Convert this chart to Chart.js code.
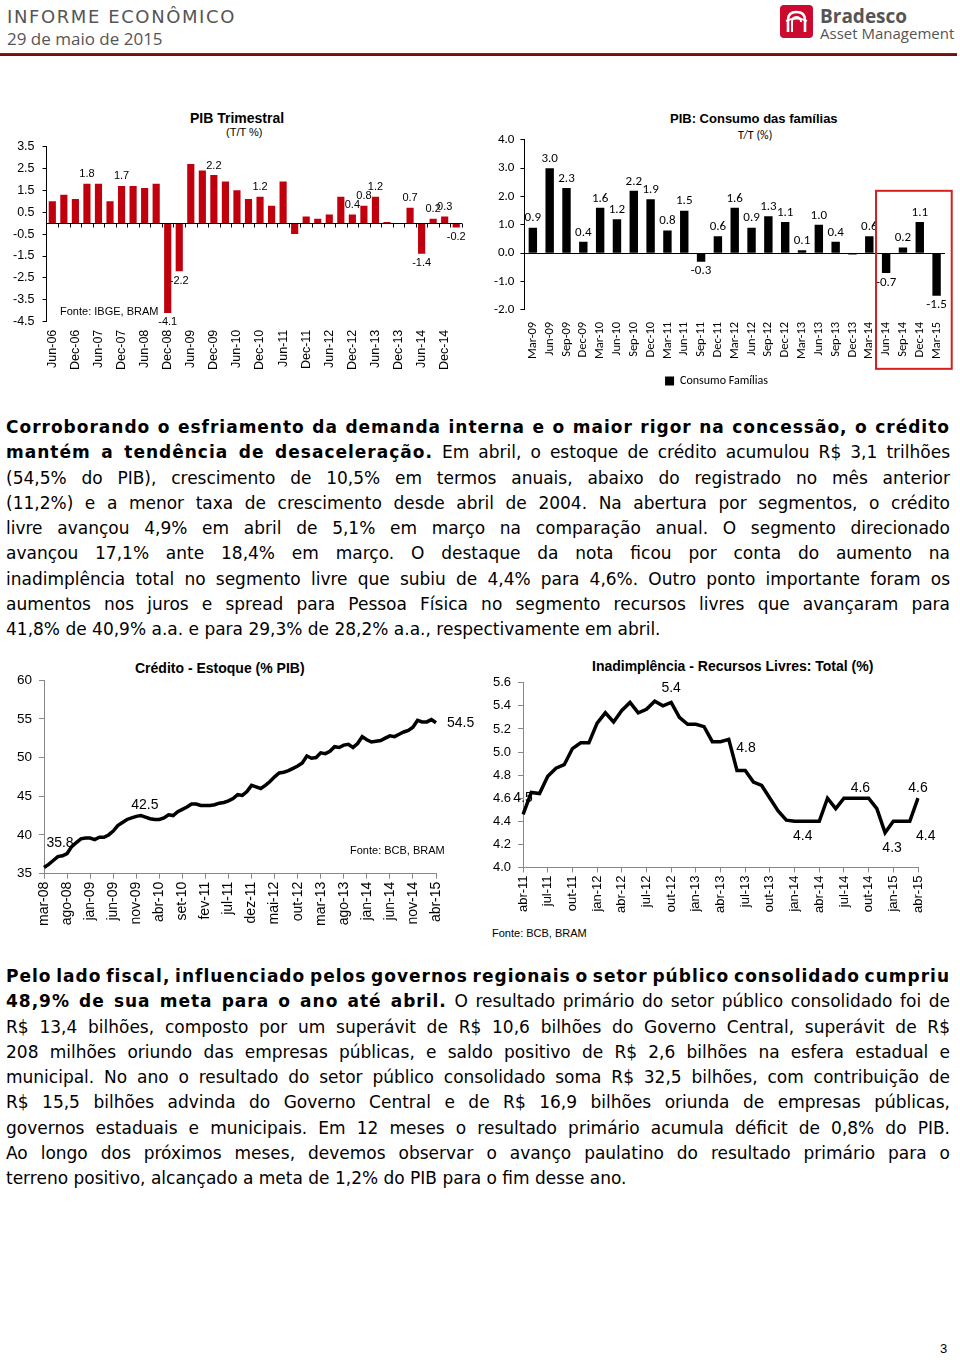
<!DOCTYPE html>
<html lang="pt-BR">
<head>
  <meta charset="utf-8">
  <title>Informe Econômico - 29 de maio de 2015</title>
  <script src="https://cdn.jsdelivr.net/npm/chart.js"></script>
  <style>
    html, body { margin: 0; padding: 0; }
    body {
      width: 960px; height: 1366px; position: relative; overflow: hidden;
      background: #fff; color: #000;
      font-family: "DejaVu Sans", Verdana, sans-serif;
    }
    .abs { position: absolute; }
    .hdr-title { left: 7px; top: 6px; font: 18px "DejaVu Sans", Verdana, sans-serif; color: #555; letter-spacing: 1.6px; }
    .hdr-date { left: 7px; top: 27px; font: 17px "Open Sans", sans-serif; color: #555; }
    .hdr-line { left: 0; top: 53px; width: 957px; height: 3px; background: linear-gradient(#9b1b1b, #5e0c0c); }
    .logo-txt1 { left: 820px; top: 3px; font: bold 19px "Open Sans", sans-serif; color: #555; }
    .logo-txt2 { left: 820px; top: 23px; font: 15px "Open Sans", sans-serif; color: #555; }
    .ctitle { font: bold 14px "Liberation Sans", Arial, sans-serif; white-space: nowrap; }
    .csub { font: 11px "Liberation Sans", Arial, sans-serif; white-space: nowrap; }
    .src { font: 11px "Liberation Sans", Arial, sans-serif; white-space: nowrap; }
    .chart { position: absolute; }
    .txt { left: 6px; width: 944px; font-size: 17px; line-height: 25.25px; }
    .ln { display: inline-block; white-space: nowrap; }
    .txt b { letter-spacing: 1px; }
    .pageno { left: 940px; top: 1341px; font: 13px "Liberation Sans", Arial, sans-serif; }
  </style>
</head>
<body>
  <div class="abs hdr-title">INFORME ECONÔMICO</div>
  <div class="abs hdr-date">29 de maio de 2015</div>
  <svg class="abs" style="left:780px;top:5px" width="33" height="33" viewBox="0 0 33 33">
    <rect x="0" y="0" width="33" height="33" rx="4" fill="#cc092f"/>
    <path d="M8 27 V15 Q8 7 16.5 7 Q25 7 25 15 V27" fill="none" stroke="#fff" stroke-width="2.6"/>
    <path d="M12 27 V17 Q12 12 16.5 12 Q21 12 21 17" fill="none" stroke="#fff" stroke-width="2"/>
    <path d="M6 16 Q16.5 11 27 16" fill="none" stroke="#fff" stroke-width="1.8"/>
  </svg>
  <div class="abs logo-txt1">Bradesco</div>
  <div class="abs logo-txt2">Asset Management</div>
  <div class="abs hdr-line"></div>

  <!-- PIB trimestral -->
  <div class="abs ctitle" style="left:190px;top:110px">PIB Trimestral</div>
  <div class="abs csub" style="left:226px;top:126px">(T/T %)</div>
  <div class="chart" style="left:0;top:131px;width:470px;height:239px"><canvas id="pibChart"></canvas></div>
  <div class="abs src" style="left:60px;top:305px">Fonte: IBGE, BRAM</div>

  <!-- Consumo das familias -->
  <div class="abs ctitle" style="left:670px;top:111px;font-size:13px">PIB: Consumo das famílias</div>
  <div class="abs csub" style="left:738px;top:128px;font-family:Carlito,Lato,sans-serif;font-size:12px">T/T (%)</div>
  <div class="chart" style="left:480px;top:126px;width:510px;height:271px"><canvas id="consumoChart"></canvas></div>

  <div class="abs txt" style="top:415px">
    <span class="ln"><b>Corroborando o esfriamento da demanda interna e o maior rigor na concessão, o crédito</b></span>
    <span class="ln"><b>mantém a tendência de desaceleração.</b> Em abril, o estoque de crédito acumulou R$ 3,1 trilhões</span>
    <span class="ln">(54,5% do PIB), crescimento de 10,5% em termos anuais, abaixo do registrado no mês anterior</span>
    <span class="ln">(11,2%) e a menor taxa de crescimento desde abril de 2004. Na abertura por segmentos, o crédito</span>
    <span class="ln">livre avançou 4,9% em abril de 5,1% em março na comparação anual. O segmento direcionado</span>
    <span class="ln">avançou 17,1% ante 18,4% em março. O destaque da nota ficou por conta do aumento na</span>
    <span class="ln">inadimplência total no segmento livre que subiu de 4,4% para 4,6%. Outro ponto importante foram os</span>
    <span class="ln">aumentos nos juros e spread para Pessoa Física no segmento recursos livres que avançaram para</span>
    <span class="ln last">41,8% de 40,9% a.a. e para 29,3% de 28,2% a.a., respectivamente em abril.</span>
  </div>

  <!-- Credito -->
  <div class="abs ctitle" style="left:135px;top:660px">Crédito - Estoque (% PIB)</div>
  <div class="chart" style="left:0;top:665px;width:480px;height:268px"><canvas id="creditoChart"></canvas></div>
  <div class="abs src" style="left:350px;top:844px">Fonte: BCB, BRAM</div>

  <!-- Inadimplencia -->
  <div class="abs ctitle" style="left:592px;top:658px">Inadimplência - Recursos Livres: Total (%)</div>
  <div class="chart" style="left:480px;top:668px;width:470px;height:252px"><canvas id="inadChart"></canvas></div>
  <div class="abs src" style="left:492px;top:927px">Fonte: BCB, BRAM</div>

  <div class="abs txt" style="top:964px">
    <span class="ln"><b>Pelo lado fiscal, influenciado pelos governos regionais o setor público consolidado cumpriu</b></span>
    <span class="ln"><b>48,9% de sua meta para o ano até abril.</b> O resultado primário do setor público consolidado foi de</span>
    <span class="ln">R$ 13,4 bilhões, composto por um superávit de R$ 10,6 bilhões do Governo Central, superávit de R$</span>
    <span class="ln">208 milhões oriundo das empresas públicas, e saldo positivo de R$ 2,6 bilhões na esfera estadual e</span>
    <span class="ln">municipal. No ano o resultado do setor público consolidado soma R$ 32,5 bilhões, com contribuição de</span>
    <span class="ln">R$ 15,5 bilhões advinda do Governo Central e de R$ 16,9 bilhões oriunda de empresas públicas,</span>
    <span class="ln">governos estaduais e municipais. Em 12 meses o resultado primário acumula déficit de 0,8% do PIB.</span>
    <span class="ln">Ao longo dos próximos meses, devemos observar o avanço paulatino do resultado primário para o</span>
    <span class="ln last">terreno positivo, alcançado a meta de 1,2% do PIB para o fim desse ano.</span>
  </div>

  <div class="abs pageno">3</div>

  <script>
    // ---- dados ----
    const pibQuarters = ['Jun-06','Sep-06','Dec-06','Mar-07','Jun-07','Sep-07','Dec-07','Mar-08','Jun-08','Sep-08',
      'Dec-08','Mar-09','Jun-09','Sep-09','Dec-09','Mar-10','Jun-10','Sep-10','Dec-10','Mar-11',
      'Jun-11','Sep-11','Dec-11','Mar-12','Jun-12','Sep-12','Dec-12','Mar-13','Jun-13','Sep-13',
      'Dec-13','Mar-14','Jun-14','Sep-14','Dec-14','Mar-15'];
    const pibValues = [1.0, 1.3, 1.1, 1.8, 1.8, 1.0, 1.7, 1.7, 1.6, 1.8,
      -4.1, -2.2, 2.7, 2.4, 2.2, 1.9, 1.5, 1.1, 1.2, 0.8,
      1.9, -0.5, 0.3, 0.2, 0.4, 1.2, 0.4, 0.8, 1.2, 0.05,
      0.0, 0.7, -1.4, 0.2, 0.3, -0.2];
    const pibLabeled = ['Mar-07','Dec-07','Dec-08','Mar-09','Dec-09','Dec-10','Dec-12','Mar-13','Jun-13',
      'Mar-14','Jun-14','Sep-14','Dec-14','Mar-15'];

    const consumoQuarters = ['Mar-09','Jun-09','Sep-09','Dec-09','Mar-10','Jun-10','Sep-10','Dec-10','Mar-11',
      'Jun-11','Sep-11','Dec-11','Mar-12','Jun-12','Sep-12','Dec-12','Mar-13','Jun-13','Sep-13',
      'Dec-13','Mar-14','Jun-14','Sep-14','Dec-14','Mar-15'];
    const consumoValues = [0.9, 3.0, 2.3, 0.4, 1.6, 1.2, 2.2, 1.9, 0.8,
      1.5, -0.3, 0.6, 1.6, 0.9, 1.3, 1.1, 0.1, 1.0, 0.4,
      -0.05, 0.6, -0.7, 0.2, 1.1, -1.5];
    const consumoHighlight = ['Jun-14','Mar-15'];

    const creditoMonths = ['mar-08','abr-08','mai-08','jun-08','jul-08','ago-08','set-08','out-08','nov-08','dez-08',
      'jan-09','fev-09','mar-09','abr-09','mai-09','jun-09','jul-09','ago-09','set-09','out-09','nov-09','dez-09',
      'jan-10','fev-10','mar-10','abr-10','mai-10','jun-10','jul-10','ago-10','set-10','out-10','nov-10','dez-10',
      'jan-11','fev-11','mar-11','abr-11','mai-11','jun-11','jul-11','ago-11','set-11','out-11','nov-11','dez-11',
      'jan-12','fev-12','mar-12','abr-12','mai-12','jun-12','jul-12','ago-12','set-12','out-12','nov-12','dez-12',
      'jan-13','fev-13','mar-13','abr-13','mai-13','jun-13','jul-13','ago-13','set-13','out-13','nov-13','dez-13',
      'jan-14','fev-14','mar-14','abr-14','mai-14','jun-14','jul-14','ago-14','set-14','out-14','nov-14','dez-14',
      'jan-15','fev-15','mar-15','abr-15'];
    const creditoValues = [35.8, 36.2, 36.7, 37.2, 37.3, 37.6, 38.5, 39.0, 39.5, 39.6,
      39.6, 39.4, 39.7, 39.7, 40.0, 40.5, 41.2, 41.6, 42.0, 42.2,
      42.4, 42.5, 42.3, 42.1, 42.0, 42.0, 42.2, 42.6, 42.5, 43.0,
      43.3, 43.6, 44.0, 44.0, 43.8, 43.8, 43.8, 43.9, 44.1, 44.2,
      44.4, 44.7, 45.2, 45.1, 45.6, 46.4, 46.2, 46.0, 46.4, 46.9,
      47.5, 48.0, 48.1, 48.3, 48.6, 48.9, 49.3, 50.2, 49.9, 50.0,
      50.6, 50.5, 50.8, 51.4, 51.3, 51.6, 51.7, 51.3, 51.8, 52.7,
      52.3, 52.0, 52.1, 52.2, 52.5, 52.8, 52.7, 53.0, 53.3, 53.5,
      53.9, 54.8, 54.6, 54.6, 54.9, 54.5];

    const inadMonths = ['abr-11','mai-11','jun-11','jul-11','ago-11','set-11','out-11','nov-11','dez-11',
      'jan-12','fev-12','mar-12','abr-12','mai-12','jun-12','jul-12','ago-12','set-12','out-12','nov-12','dez-12',
      'jan-13','fev-13','mar-13','abr-13','mai-13','jun-13','jul-13','ago-13','set-13','out-13','nov-13','dez-13',
      'jan-14','fev-14','mar-14','abr-14','mai-14','jun-14','jul-14','ago-14','set-14','out-14','nov-14','dez-14',
      'jan-15','fev-15','mar-15','abr-15'];
    const inadValues = [4.46, 4.65, 4.64, 4.79, 4.86, 4.89, 5.03, 5.08, 5.08, 5.25,
      5.34, 5.26, 5.36, 5.43, 5.34, 5.37, 5.44, 5.40, 5.43, 5.30,
      5.24, 5.24, 5.22, 5.09, 5.09, 5.11, 4.84, 4.84, 4.74, 4.71,
      4.60, 4.49, 4.41, 4.40, 4.40, 4.40, 4.40, 4.60, 4.51, 4.60,
      4.60, 4.60, 4.60, 4.51, 4.30, 4.40, 4.40, 4.40, 4.60];

    // ---- justificar as linhas de texto ----
    document.querySelectorAll('.ln').forEach(el => {
      if (el.classList.contains('last')) return;
      const w = el.getBoundingClientRect().width;
      const spaces = (el.textContent.match(/ /g) || []).length;
      if (spaces) el.style.wordSpacing = ((944 - w) / spaces) + 'px';
    });

    // ---- plugins ----
    const zeroLine = {
      id: 'zeroLine',
      afterDatasetsDraw(chart, args, opts) {
        const { ctx, chartArea, scales: { x, y } } = chart;
        const y0 = Math.round(y.getPixelForValue(0)) + 0.5;
        ctx.save();
        ctx.strokeStyle = opts.color || '#000';
        ctx.lineWidth = 1;
        ctx.beginPath();
        ctx.moveTo(chartArea.left, y0);
        ctx.lineTo(chartArea.right, y0);
        if (opts.tick) {
          const n = chart.data.labels.length;
          const step = (chartArea.right - chartArea.left) / n;
          for (let i = 1; i <= n; i++) {
            const xx = Math.round(chartArea.left + step * i) + 0.5;
            ctx.moveTo(xx, y0);
            ctx.lineTo(xx, y0 + opts.tick);
          }
        }
        ctx.stroke();
        ctx.restore();
      }
    };

    const valueLabels = {
      id: 'valueLabels',
      afterDatasetsDraw(chart, args, opts) {
        if (!opts.items) return;
        const { ctx } = chart;
        const meta = chart.getDatasetMeta(0);
        const data = chart.data.datasets[0].data;
        ctx.save();
        ctx.font = opts.font;
        ctx.fillStyle = opts.color || '#000';
        opts.items.forEach(it => {
          const idx = chart.data.labels.indexOf(it.at);
          const el = meta.data[idx];
          const v = data[idx];
          const g = it.gap != null ? it.gap : (opts.gap || 4);
          const pos = it.pos || (v < 0 ? 'below' : 'above');
          let x = el.x + (it.dx || 0), y = el.y;
          ctx.textAlign = 'center';
          if (pos === 'above') { ctx.textBaseline = 'bottom'; y -= g; }
          else if (pos === 'below') { ctx.textBaseline = 'top'; y += g; }
          else { ctx.textAlign = 'left'; ctx.textBaseline = 'middle'; x += g; }
          ctx.fillText(v.toFixed(1), x, y + (it.dy || 0));
        });
        ctx.restore();
      }
    };

    const highlightBox = {
      id: 'highlightBox',
      afterDraw(chart, args, opts) {
        if (!opts.from) return;
        const { ctx, chartArea, scales: { x, y } } = chart;
        const step = x.getPixelForValue(1) - x.getPixelForValue(0);
        const l = x.getPixelForValue(chart.data.labels.indexOf(opts.from)) - step * 0.6;
        const r = x.getPixelForValue(chart.data.labels.indexOf(opts.to)) + step * 0.9;
        const t = y.getPixelForValue(opts.top);
        const b = chartArea.bottom + opts.below;
        ctx.save();
        ctx.strokeStyle = '#d42020';
        ctx.lineWidth = 2;
        ctx.strokeRect(l, t, r - l, b - t);
        ctx.restore();
      }
    };

    Chart.defaults.animation = false;
    Chart.defaults.color = '#000';
    const arial = '"Liberation Sans", Arial, sans-serif';
    const calibri = 'Carlito, Lato, sans-serif';

    // ---- PIB trimestral ----
    new Chart(document.getElementById('pibChart'), {
      type: 'bar',
      data: {
        labels: pibQuarters,
        datasets: [{ data: pibValues, backgroundColor: '#c1000e', barPercentage: 0.62, categoryPercentage: 1.0 }]
      },
      options: {
        responsive: true, maintainAspectRatio: false,
        layout: { padding: { left: 5, right: 8, top: 0, bottom: 0 } },
        plugins: {
          legend: { display: false }, tooltip: { enabled: false },
          zeroLine: { color: '#000', tick: 4 },
          valueLabels: {
            font: '11px ' + arial, gap: 4,
            items: pibLabeled.map(q => ({ at: q }))
          }
        },
        scales: {
          x: {
            grid: { display: false }, border: { display: false },
            ticks: {
              autoSkip: false, maxRotation: 90, minRotation: 90, padding: 0,
              font: { family: arial, size: 12.5 },
              callback: (v, i) => i % 2 === 0 ? pibQuarters[i] : null
            }
          },
          y: {
            min: -4.5, max: 3.5,
            border: { display: true, color: '#000' },
            grid: { drawOnChartArea: false, drawTicks: true, tickLength: 4, color: '#000' },
            ticks: { stepSize: 1, padding: 8, font: { family: arial, size: 12.5 }, callback: v => v.toFixed(1) }
          }
        }
      },
      plugins: [zeroLine, valueLabels]
    });

    // ---- Consumo das famílias ----
    new Chart(document.getElementById('consumoChart'), {
      type: 'bar',
      data: {
        labels: consumoQuarters,
        datasets: [{ label: 'Consumo Famílias', data: consumoValues, backgroundColor: '#000', barPercentage: 0.5, categoryPercentage: 1.0 }]
      },
      options: {
        responsive: true, maintainAspectRatio: false,
        layout: { padding: { left: 8, right: 45, top: 0, bottom: 0 } },
        plugins: {
          legend: {
            position: 'bottom',
            labels: { boxWidth: 9, boxHeight: 9, padding: 12, font: { family: calibri, size: 12 }, color: '#000' }
          },
          tooltip: { enabled: false },
          zeroLine: { color: '#000' },
          highlightBox: { from: consumoHighlight[0], to: consumoHighlight[1], top: 2.2, below: 59 },
          valueLabels: {
            font: '13px ' + calibri, gap: 3,
            items: consumoQuarters.filter(q => q !== 'Dec-13').map(q => ({ at: q }))
          }
        },
        scales: {
          x: {
            grid: { display: false }, border: { display: false },
            ticks: { autoSkip: false, maxRotation: 90, minRotation: 90, padding: 4, font: { family: calibri, size: 12.5 } }
          },
          y: {
            min: -2, max: 4,
            border: { display: true, color: '#000' },
            grid: { drawOnChartArea: false, drawTicks: true, tickLength: 4, color: '#000' },
            ticks: { stepSize: 1, padding: 6, font: { family: calibri, size: 13 }, callback: v => v.toFixed(1) }
          }
        }
      },
      plugins: [zeroLine, valueLabels, highlightBox]
    });

    // ---- Crédito ----
    new Chart(document.getElementById('creditoChart'), {
      type: 'line',
      data: {
        labels: creditoMonths,
        datasets: [{ data: creditoValues, borderColor: '#000', borderWidth: 3.5, pointRadius: 0, tension: 0, fill: false }]
      },
      options: {
        responsive: true, maintainAspectRatio: false,
        layout: { padding: { left: 10, right: 44, top: 0, bottom: 4 } },
        plugins: {
          legend: { display: false }, tooltip: { enabled: false },
          valueLabels: {
            font: '14px ' + arial,
            items: [
              { at: 'mar-08', pos: 'above', gap: 17, dx: 16 },
              { at: 'dez-09', pos: 'above', gap: 3, dx: 4 },
              { at: 'abr-15', pos: 'right', gap: 11 }
            ]
          }
        },
        scales: {
          x: {
            border: { display: true, color: '#888' },
            grid: { drawOnChartArea: false, tickLength: 5, color: '#888' },
            ticks: {
              autoSkip: false, maxRotation: 90, minRotation: 90, padding: 3,
              font: { family: arial, size: 14 },
              callback: (v, i) => i % 5 === 0 ? creditoMonths[i] : null
            }
          },
          y: {
            min: 35, max: 60,
            border: { display: true, color: '#888' },
            grid: { drawOnChartArea: false, tickLength: 5, color: '#888' },
            ticks: { stepSize: 5, padding: 7, font: { family: arial, size: 13.5 } }
          }
        }
      },
      plugins: [valueLabels]
    });

    // ---- Inadimplência ----
    new Chart(document.getElementById('inadChart'), {
      type: 'line',
      data: {
        labels: inadMonths,
        datasets: [{ data: inadValues, borderColor: '#000', borderWidth: 3.5, pointRadius: 0, tension: 0, fill: false }]
      },
      options: {
        responsive: true, maintainAspectRatio: false,
        layout: { padding: { left: 6, right: 32, top: 0, bottom: 4 } },
        plugins: {
          legend: { display: false }, tooltip: { enabled: false },
          valueLabels: {
            font: '14px ' + arial,
            items: [
              { at: 'abr-11', pos: 'above', gap: 9 },
              { at: 'out-12', pos: 'above', gap: 7 },
              { at: 'jun-13', pos: 'above', gap: 15, dx: 9 },
              { at: 'fev-14', pos: 'below', gap: 8 },
              { at: 'set-14', pos: 'above', gap: 3 },
              { at: 'dez-14', pos: 'below', gap: 8, dx: 7 },
              { at: 'mar-15', pos: 'below', gap: 8, dx: 16 },
              { at: 'abr-15', pos: 'above', gap: 3 }
            ]
          }
        },
        scales: {
          x: {
            border: { display: true, color: '#888' },
            grid: { drawOnChartArea: false, tickLength: 5, color: '#888' },
            ticks: {
              autoSkip: false, maxRotation: 90, minRotation: 90, padding: 3,
              font: { family: arial, size: 13 },
              callback: (v, i) => i % 3 === 0 ? inadMonths[i] : null
            }
          },
          y: {
            min: 4.0, max: 5.6,
            border: { display: true, color: '#888' },
            grid: { drawOnChartArea: false, tickLength: 5, color: '#888' },
            ticks: { stepSize: 0.2, padding: 7, font: { family: arial, size: 13 }, callback: v => v.toFixed(1) }
          }
        }
      },
      plugins: [valueLabels]
    });
  </script>
</body>
</html>
